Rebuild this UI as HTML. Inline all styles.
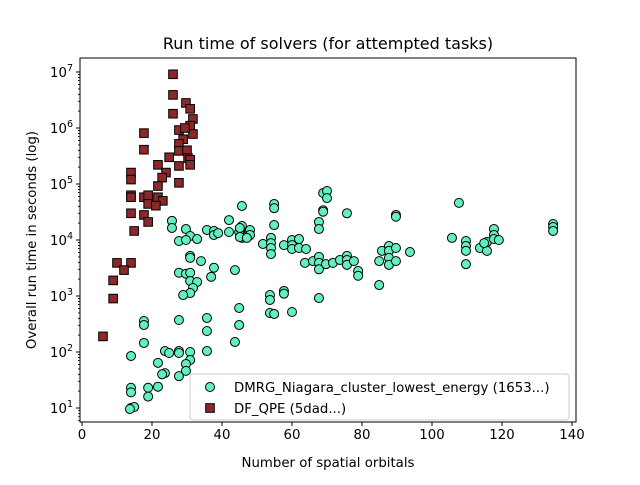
<!DOCTYPE html>
<html><head><meta charset="utf-8"><style>
body{margin:0;background:#fff;}
svg text{font-family:"DejaVu Sans","Liberation Sans",sans-serif;fill:#000;}
</style></head><body>
<svg id="chart" width="640" height="480" xmlns="http://www.w3.org/2000/svg">
<rect width="640" height="480" fill="#fff"/>
<text x="328" y="49" font-size="16" text-anchor="middle">Run time of solvers (for attempted tasks)</text>
<text x="328" y="467" font-size="13.3" text-anchor="middle">Number of spatial orbitals</text>
<text transform="translate(36,240) rotate(-90)" font-size="13.3" text-anchor="middle">Overall run time in seconds (log)</text>
<g id="marks"></g>
<g id="axes"></g>
</svg>
<script>
const xTicks=[0,20,40,60,80,100,120,140];
const yTickExps=[1,2,3,4,5,6,7];
const dmrgX=[45.7,25.7,25.7,29.7,30.9,32.9,27.7,29.7,35.7,37.7,37.7,38.9,42,42,44.9,45.7,47.7,47.7,45.7,30.9,30.9,34,37.7,43.7,27.7,29.7,30.9,30.9,32.9,36.9,31.7,30.9,28.9,44.9,17.7,17.7,27.7,35.7,35.7,44.9,17.7,43.7,35.7,14,23.7,24.9,27.7,27.7,30.9,30.9,29.7,21.7,23.7,22.9,29.7,27.7,14,14,18.9,21.7,18.9,14,14.9,13.7,54.9,54.9,54.9,68.9,70,70,68.9,68.9,67.7,67.7,75.7,89.7,89.7,107.7,134.6,134.6,134.6,45.1,48,48,45.1,47.1,51.7,54,54,54,54,57.7,60,60,60,62,62,64,63.7,66,67.7,67.7,67.7,69.7,71.7,73.7,75.7,75.7,75.7,77.7,78.9,78.9,84.9,85.7,87.7,87.7,87.7,87.7,89.7,89.7,93.7,84.9,105.7,109.7,109.7,109.7,109.7,113.7,115.7,115.7,114.9,117.7,117.7,117.7,119.1,53.7,53.7,57.7,57.7,53.7,54.9,60,67.7];
const dmrgY=[40500,22000,16400,15700,11800,10400,9600,10000,15100,14500,12300,13300,22700,13900,13900,17800,14500,11800,10900,5200,4800,4200,3200,2900,2600,2500,2600,1850,1780,2200,1390,1130,1040,611,358,303,373,405,237,303,145,151,104,85,104,96,104,96,100,72,61,64,42,40,46,37,23,19,23,24,16,10,10.4,9.6,44000,37000,18500,69000,75000,56000,34000,32000,21000,15700,30000,28000,26000,46000,19300,17100,14500,16400,15100,12300,11300,10900,8500,10900,8800,7200,5600,8100,10000,8100,6900,10400,7200,6900,3900,4200,5000,3900,3000,3700,3900,4400,5200,4400,3600,4200,2800,2300,4200,6400,7800,6400,4800,3600,7200,4200,6100,1570,10900,9600,7800,6400,3700,7200,9200,6400,8800,15700,12300,10400,10000,1040,850,1230,1100,497,478,518,920];
const qpeX=[26,26,26,29.7,30.9,31.7,30.9,31.7,27.7,29.4,28.9,27.7,27.7,30,24.9,27.7,30.3,30.9,30.9,17.7,17.7,21.7,24,22.9,14,14,27.7,21.7,14,14,17.7,18.9,21.7,23.1,18.9,21.1,14,17.7,18.9,14.9,10,14,12,8.9,8.9,6];
const qpeY=[9.1e6,3.9e6,1.8e6,2.8e6,2.2e6,1.45e6,1.1e6,7.8e5,9.2e5,1e6,6.3e5,5.2e5,3.9e5,4.0e5,3.0e5,2.1e5,2.9e5,2.7e5,2.2e5,8.1e5,4.1e5,2.2e5,1.6e5,1.3e5,1.6e5,1.2e5,1.05e5,9.2e4,6.3e4,5.8e4,5.8e4,6.3e4,5.8e4,5.0e4,4.4e4,4.1e4,3.0e4,2.8e4,2.1e4,1.45e4,3900,3900,2900,1900,900,190];
const L=80,R=576,T=58,B=422;
function xs(v){return 82+v*3.5;}
function ys(v){return 408-(Math.log10(v)-1)*56;}
const NS="http://www.w3.org/2000/svg";
const marks=document.getElementById('marks');
const axes=document.getElementById('axes');
function mk(tag,attrs,parent){const e=document.createElementNS(NS,tag);for(const k in attrs)e.setAttribute(k,attrs[k]);parent.appendChild(e);return e;}
for(let i=0;i<dmrgX.length;i++){
 const c=mk('circle',{cx:xs(dmrgX[i]),cy:ys(dmrgY[i]),r:4.5,fill:'#62f0c0',stroke:'#000','stroke-width':1},marks);
 
 
}
for(let i=0;i<qpeX.length;i++){
 const s=mk('rect',{x:xs(qpeX[i])-4.3,y:ys(qpeY[i])-4.3,width:8.6,height:8.6,fill:'#8c2828',stroke:'#000','stroke-width':1},marks);
 
 
}
const frame=mk('rect',{x:L,y:T,width:R-L,height:B-T,fill:'none',stroke:'#000','stroke-width':1},axes);


xTicks.forEach(t=>{
 const x=xs(t);
 mk('line',{x1:x,y1:B,x2:x,y2:B+4,stroke:'#000'},axes);
 const tx=mk('text',{x:x,y:B+17,'font-size':'13.3','text-anchor':'middle'},axes);
 tx.textContent=t;
 
 
});
yTickExps.forEach(e=>{
 const y=ys(Math.pow(10,e));
 mk('line',{x1:L-4,y1:y,x2:L,y2:y,stroke:'#000'},axes);
 const tx=mk('text',{x:L-7,y:y+5,'font-size':'13.3','text-anchor':'end'},axes);
 tx.textContent='10';
 const sp=mk('tspan',{dy:-6,'font-size':'9.5'},tx);
 sp.textContent=e;
 
 
 for(let m=2;m<=9;m++){
  const v=m*Math.pow(10,e);
  const yy=ys(v);
  if(yy>T&&yy<B) mk('line',{x1:L-2,y1:yy,x2:L,y2:yy,stroke:'#000','stroke-width':0.7},axes);
 }
 for(let m=2;m<=9;m++){
  const yy=ys(m*Math.pow(10,e-1));
  if(yy>T&&yy<B) mk('line',{x1:L-2,y1:yy,x2:L,y2:yy,stroke:'#000','stroke-width':0.7},axes);
 }
});
const lg=mk('g',{},axes);


mk('rect',{x:190,y:374,width:379,height:46,rx:3,fill:'#fff','fill-opacity':0.8,stroke:'#ccc'},lg);
const c1=mk('circle',{cx:210,cy:387,r:4.5,fill:'#62f0c0',stroke:'#000'},lg);


const t1=mk('text',{x:234,y:392,'font-size':'13.3'},lg);
t1.textContent='DMRG_Niagara_cluster_lowest_energy (1653...)';


const s1=mk('rect',{x:205.7,y:403.7,width:8.6,height:8.6,fill:'#8c2828',stroke:'#000'},lg);


const t2=mk('text',{x:234,y:413,'font-size':'13.3'},lg);
t2.textContent='DF_QPE (5dad...)';


</script>
</body></html>
